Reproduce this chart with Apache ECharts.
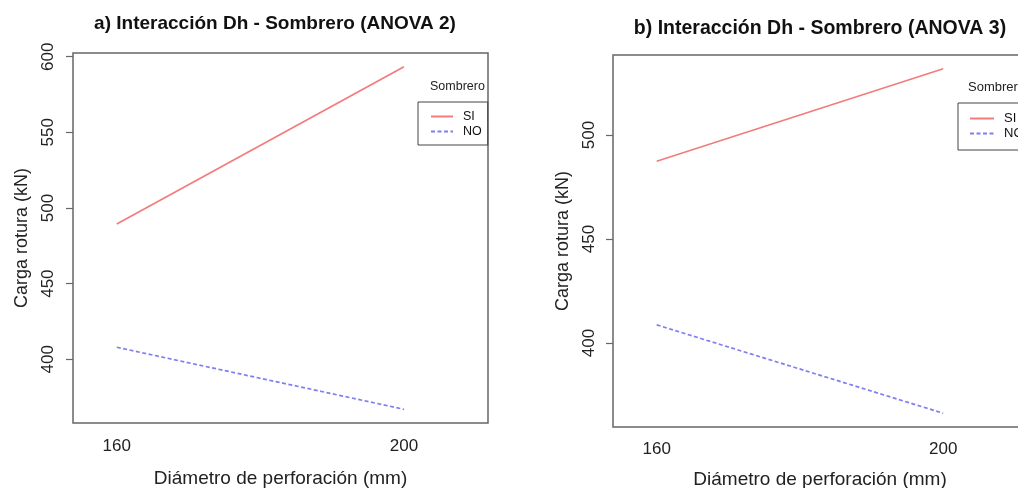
<!DOCTYPE html>
<html>
<head>
<meta charset="utf-8">
<script src="https://cdn.jsdelivr.net/npm/echarts@6/dist/echarts.min.js"></script>
<style>html,body{margin:0;padding:0;background:#fff}#c{width:1018px;height:488px}</style>
</head>
<body>
<div id="c"></div>
<script>
// ---- data ----
var diametros = [160, 200];
var siA = [489.4, 593.4];
var noA = [407.9, 366.9];
var siB = [487.4, 531.9];
var noB = [408.7, 366.2];
var yTicksA = [400, 450, 500, 550, 600];
var yTicksB = [400, 450, 500];
var xTicks = [160, 200];
var titleA = 'a) Interacción Dh - Sombrero (ANOVA 2)';
var titleB = 'b) Interacción Dh - Sombrero (ANOVA 3)';
var xName = 'Diámetro de perforación (mm)';
var yName = 'Carga rotura (kN)';
var legendTitle = 'Sombrero';
var groups = ['SI', 'NO'];

function pad(arrs) {
  var all = [].concat.apply([], arrs);
  var lo = Math.min.apply(null, all), hi = Math.max.apply(null, all);
  var d = (hi - lo) * 0.04;
  return [lo - d, hi + d];
}
var rA = pad([siA, noA]);
var rB = pad([siB, noB]);

var FONT = 'Liberation Sans, Arial, sans-serif';
var RED = '#f27c7c';
var BLUE = '#7f7ff0';

function pairs(xs, ys) { return xs.map(function (x, i) { return [x, ys[i]]; }); }

function xAxis(idx, gap, lblMargin) {
  return {
    type: 'value', gridIndex: idx, min: 153.9, max: 211.7,
    name: xName, nameLocation: 'middle', nameGap: gap,
    nameTextStyle: { fontFamily: FONT, fontSize: 19, color: '#222' },
    axisLine: { show: false }, axisTick: { show: false }, splitLine: { show: false },
    axisLabel: { customValues: xTicks, fontFamily: FONT, fontSize: 17, color: '#222', margin: lblMargin }
  };
}
function yAxis(idx, r, ticks, gap, lblMargin) {
  return {
    type: 'value', gridIndex: idx, min: r[0], max: r[1],
    name: yName, nameLocation: 'middle', nameGap: gap, nameRotate: 90,
    nameTextStyle: { fontFamily: FONT, fontSize: 18, color: '#222' },
    axisLine: { show: false }, splitLine: { show: false },
    axisTick: { show: true, customValues: ticks, length: 7, lineStyle: { color: '#666', width: 1.2 } },
    axisLabel: { customValues: ticks, rotate: 90, fontFamily: FONT, fontSize: 17, color: '#222', margin: lblMargin }
  };
}
function line(name, data, xi, color, dashed) {
  return {
    type: 'line', name: name, xAxisIndex: xi, yAxisIndex: xi, data: data,
    symbol: 'none', silent: true, animation: false,
    lineStyle: { color: color, width: 1.7, type: dashed ? [4, 2.5] : 'solid' },
    itemStyle: { color: color }
  };
}
function legend(left, top, iw, fs, pad) {
  return {
    data: groups, orient: 'vertical', left: left, top: top,
    padding: pad, itemWidth: iw, itemHeight: 14, itemGap: 2,
    itemStyle: { opacity: 0 },
    borderColor: '#444', borderWidth: 1, borderRadius: 0,
    textStyle: { fontFamily: FONT, fontSize: fs, color: '#111', padding: [0, 0, 0, 5] },
    selectedMode: false
  };
}

var chart = echarts.init(document.getElementById('c'));
chart.setOption({
  backgroundColor: '#fff',
  animation: false,
  title: [
    { text: titleA, left: 275, top: 14, textAlign: 'center', padding: 0,
      textStyle: { fontFamily: FONT, fontSize: 19, fontWeight: 'bold', color: '#111' } },
    { text: titleB, left: 820, top: 19, textAlign: 'center', padding: 0,
      textStyle: { fontFamily: FONT, fontSize: 19.5, fontWeight: 'bold', color: '#111' } },
    { text: legendTitle, left: 430, top: 80, padding: 0,
      textStyle: { fontFamily: FONT, fontSize: 12.5, fontWeight: 'normal', color: '#222' } },
    { text: legendTitle, left: 968, top: 81, padding: 0,
      textStyle: { fontFamily: FONT, fontSize: 13, fontWeight: 'normal', color: '#222' } }
  ],
  legend: [legend(418, 102, 22, 12.5, [8, 6, 7, 12]), legend(958, 103, 24, 13, [9, 6, 10, 11])],
  grid: [
    { left: 73, top: 53, width: 415, height: 370, show: true, borderColor: '#666', borderWidth: 1.5, backgroundColor: 'transparent', outerBoundsMode: 'none' },
    { left: 613, top: 55, width: 414, height: 372, show: true, borderColor: '#666', borderWidth: 1.5, backgroundColor: 'transparent', outerBoundsMode: 'none' }
  ],
  xAxis: [xAxis(0, 46, 15), xAxis(1, 43, 14)],
  yAxis: [yAxis(0, rA, yTicksA, 42, 16), yAxis(1, rB, yTicksB, 41, 15)],
  series: [
    line('SI', pairs(diametros, siA), 0, RED, false),
    line('NO', pairs(diametros, noA), 0, BLUE, true),
    line('SI', pairs(diametros, siB), 1, RED, false),
    line('NO', pairs(diametros, noB), 1, BLUE, true)
  ]
});
</script>
</body>
</html>
